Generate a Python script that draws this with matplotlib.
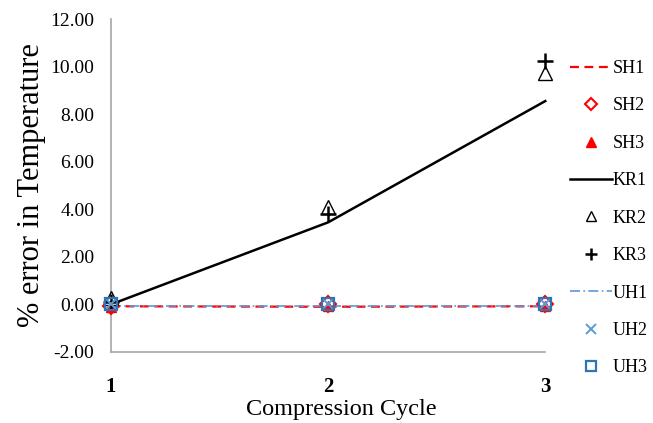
import matplotlib
matplotlib.use("Agg")
import matplotlib.pyplot as plt

plt.rcParams['font.family'] = ['Liberation Serif', 'DejaVu Serif']

cycles = [1, 2, 3]
sh1 = [-0.08, -0.10, -0.08]
sh2 = [-0.05, 0.00, 0.00]
sh3 = [-0.10, -0.05, -0.05]
kr1 = [0.00, 3.45, 8.55]
kr2 = [0.25, 4.10, 9.75]
kr3 = [0.10, 3.80, 10.25]
uh1 = [-0.05, -0.05, -0.05]
uh2 = [0.00, 0.00, 0.00]
uh3 = [0.00, 0.00, 0.00]

yticks = [-2, 0, 2, 4, 6, 8, 10, 12]

red = '#FF0000'
lblue = '#5B9BD5'
dblue = '#2E75B6'

fig = plt.figure(figsize=(6.53, 4.23), dpi=100)
ax = fig.add_axes([0.170, 0.168, 0.665, 0.787])

kw = dict(clip_on=False)
ax.plot(cycles, sh1, color=red, ls=(0, (4, 2.5)), lw=1.6, label='SH1', zorder=3, **kw)
ax.plot(cycles, sh2, ls='none', marker='D', ms=8, mfc='none', mec=red, mew=1.5, label='SH2', zorder=4, **kw)
ax.plot(cycles, sh3, ls='none', marker='^', ms=7, color=red, label='SH3', zorder=4, **kw)
ax.plot(cycles, kr1, color='black', lw=1.8, label='KR1', zorder=3, **kw)
ax.plot(cycles, kr2, ls='none', marker='^', ms=10, mfc='white', mec='black', mew=1.0, label='KR2', zorder=4, **kw)
ax.plot(cycles, kr3, ls='none', marker='+', ms=11, color='black', mew=1.8, label='KR3', zorder=5, **kw)
ax.plot(cycles, uh1, color=lblue, ls=(0, (6, 2, 1, 2)), lw=1.2, label='UH1', zorder=3, **kw)
ax.plot(cycles, uh2, ls='none', marker='x', ms=8, color=lblue, mew=1.4, label='UH2', zorder=5, **kw)
ax.plot(cycles, uh3, ls='none', marker='s', ms=8, mfc='none', mec=dblue, mew=1.6, label='UH3', zorder=5, **kw)

ax.set_xlim(1, 3)
ax.set_ylim(-2, 12)
ax.set_xticks(cycles)
ax.set_xticklabels([str(c) for c in cycles], fontsize=15, fontweight='bold')
ax.set_yticks(yticks)
ax.set_yticklabels([f'{v:.2f}' for v in yticks], fontsize=14)
ax.tick_params(axis='both', length=0)
ax.tick_params(axis='x', pad=18)
ax.tick_params(axis='y', pad=12)

for s in ('top', 'right'):
    ax.spines[s].set_visible(False)
for s in ('left', 'bottom'):
    ax.spines[s].set_color('#A6A6A6')
    ax.spines[s].set_linewidth(1.2)

ax.set_xlabel('Compression Cycle', fontsize=17.5, labelpad=0)
ax.xaxis.set_label_coords(0.53, -0.14)
ax.set_ylabel('% error in Temperature', fontsize=22, labelpad=3)

leg = fig.legend(loc='upper left', bbox_to_anchor=(0.862, 0.875), frameon=False,
                 fontsize=13, labelspacing=1.13, handlelength=2.3, handletextpad=0.05,
                 borderaxespad=0)
for h in leg.legend_handles:
    if h.get_marker() not in (None, 'None', 'none', ''):
        h.set_markersize(6.5)
        if h.get_marker() == '+':
            h.set_markersize(9)
            h.set_markeredgewidth(1.8)

fig.savefig('out.png', dpi=100)
